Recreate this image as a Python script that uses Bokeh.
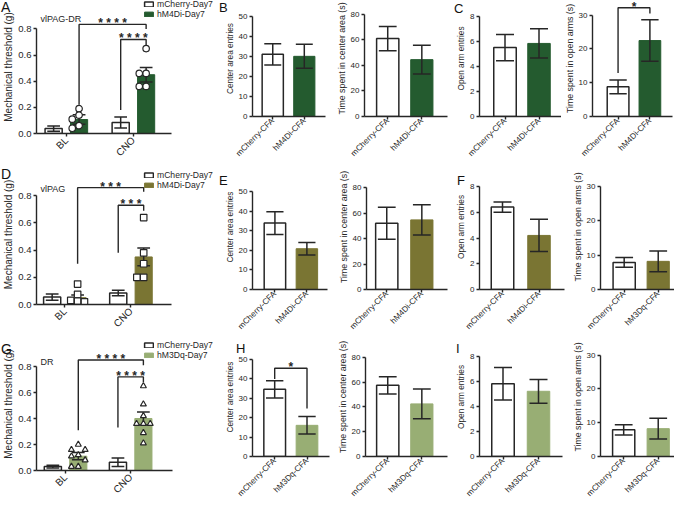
import math
from bokeh.plotting import figure
from bokeh.models import (Range1d, FixedTicker, NumeralTickFormatter, Legend, LegendItem,
                          Label, Div)
from bokeh.layouts import row, column
from bokeh.embed import file_html
from bokeh.resources import INLINE

# ---------------- data ----------------
mech_groups = ["BL", "CNO"]
cfa_hm4di = ["mCherry-CFA", "hM4Di-CFA"]
cfa_hm3dq = ["mCherry-CFA", "hM3Dq-CFA"]
mech_ticks = [0, 0.2, 0.4, 0.6, 0.8]
entries_ticks = [0, 10, 20, 30, 40, 50]
center_time_ticks = [0, 20, 40, 60, 80]
open_entries_ticks = [0, 2, 4, 6, 8]
open_time_ticks = [0, 10, 20, 30]
panel_letters = ["A", "B", "C", "D", "E", "F", "G", "H", "I"]

# Row 1: vlPAG-DR, hM4Di
A_mch_mean = [0.038, 0.084]
A_mch_sem = [0.020, 0.042]
A_hm_mean = [0.107, 0.450]
A_hm_sem = [0.037, 0.055]
A_hm_pts_BL = [0.19, 0.14, 0.11, 0.06, 0.04]
A_hm_pts_CNO = [0.65, 0.46, 0.46, 0.36, 0.36]
A_sig = [("hm", 0, "hm", 1, 0.22, 0.835, 0.80, "* * * *"),
         ("mch", 1, "hm", 1, 0.18, 0.72, 0.675, "* * * *")]
B_entries_mean = [31.0, 30.0]
B_entries_sem = [5.3, 6.0]
B_time_mean = [61.0, 44.5]
B_time_sem = [9.5, 11.2]
C_entries_mean = [5.5, 5.83]
C_entries_sem = [1.05, 1.17]
C_time_mean = [8.8, 22.5]
C_time_sem = [2.05, 6.15]
C_time_sig = [(1, 2, 12.9, 32.2, 30.5, "*")]

# Row 2: vlPAG, hM4Di
D_mch_mean = [0.055, 0.084]
D_mch_sem = [0.023, 0.020]
D_hm_mean = [0.050, 0.350]
D_hm_sem = [0.020, 0.065]
D_hm_pts_BL = [0.15, 0.075, 0.03, 0.025, 0.02]
D_hm_pts_CNO = [0.64, 0.38, 0.30, 0.20, 0.20]
D_sig = [("hm", 0, "hm", 1, 0.30, 0.86, 0.83, "* * *"),
         ("mch", 1, "hm", 1, 0.38, 0.73, 0.69, "* * *")]
E_entries_mean = [33.9, 20.8]
E_entries_sem = [5.8, 3.15]
E_time_mean = [52.0, 54.6]
E_time_sem = [12.5, 11.9]
F_entries_mean = [6.4, 4.2]
F_entries_sem = [0.4, 1.25]
F_time_mean = [7.9, 8.2]
F_time_sem = [1.45, 3.05]

# Row 3: DR, hM3Dq
G_mch_mean = [0.030, 0.064]
G_mch_sem = [0.010, 0.033]
G_hm_mean = [0.110, 0.400]
G_hm_sem = [0.028, 0.050]
G_hm_pts_BL = [0.20, 0.16, 0.16, 0.12, 0.11, 0.08, 0.03, 0.03]
G_hm_pts_CNO = [0.65, 0.51, 0.42, 0.36, 0.36, 0.36, 0.29, 0.21]
G_sig = [("hm", 0, "hm", 1, 0.31, 0.85, 0.81, "* * * *"),
         ("mch", 1, "hm", 1, 0.33, 0.72, 0.68, "* * * *")]
H_entries_mean = [34.5, 16.0]
H_entries_sem = [4.4, 4.5]
H_entries_sig = [(1, 2, 39.8, 45.3, 24.7, "*")]
H_time_mean = [57.5, 42.5]
H_time_sem = [7.0, 12.0]
I_entries_mean = [5.8, 5.2]
I_entries_sem = [1.3, 0.95]
I_time_mean = [7.9, 8.25]
I_time_sem = [1.5, 3.1]

# ---------------- style ----------------
FONT = "Liberation Sans"
INK = "#262626"
GREEN_DARK = "#245b2f"
OLIVE = "#7a7533"
GREEN_LIGHT = "#98ae74"


def make_panel(W, H, L, fb, top, c1, c2, xend, t, ymax, yticks, fmt, xlabels, ylabel,
               ylab_size, ytick_size, xlab_size, xstandoff):
    kx = c2 - c1
    x0 = 1 - (c1 - L) / kx
    x1 = 1 + (W - c1) / kx
    ky = (fb - t) / ymax
    y1 = (fb - top) / ky
    p = figure(width=W, height=H, x_range=Range1d(x0, x1), y_range=Range1d(0, y1),
               output_backend="svg", toolbar_location=None,
               min_border_left=L, min_border_right=0, min_border_top=top,
               min_border_bottom=H - fb)
    p.outline_line_color = None
    p.xgrid.grid_line_color = None
    p.ygrid.grid_line_color = None
    xa = p.xaxis[0]
    ya = p.yaxis[0]
    for ax in (xa, ya):
        ax.axis_line_color = INK
        ax.axis_line_width = 1.4
        ax.major_tick_line_color = INK
        ax.major_tick_line_width = 1.4
        ax.major_tick_in = 0
        ax.major_tick_out = 3
        ax.minor_tick_line_color = None
        ax.major_label_text_font = FONT
        ax.major_label_text_color = INK
        ax.major_label_standoff = 2
    xa.ticker = FixedTicker(ticks=[1, 2])
    xa.major_label_overrides = {1: xlabels[0], 2: xlabels[1]}
    xa.major_label_orientation = math.pi / 4
    xa.major_label_text_font_size = f"{xlab_size}px"
    xa.major_label_standoff = xstandoff
    xa.bounds = (x0, min(x1, 1 + (xend - c1) / kx))
    ya.ticker = FixedTicker(ticks=yticks)
    ya.formatter = NumeralTickFormatter(format=fmt)
    ya.major_label_text_font_size = f"{ytick_size}px"
    ya.bounds = (0, ymax)
    ya.axis_label = ylabel
    ya.axis_label_text_font = FONT
    ya.axis_label_text_font_style = "normal"
    ya.axis_label_text_font_size = f"{ylab_size}px"
    ya.axis_label_text_color = INK
    ya.axis_label_standoff = 1
    g = dict(L=L, fb=fb, kx=kx, ky=ky, x0=x0)
    return p, g


def errbars(p, g, xs, means, sems, cap_px):
    hw = cap_px / 2 / g["kx"]
    lo = [m - s for m, s in zip(means, sems)]
    hi = [m + s for m, s in zip(means, sems)]
    p.segment(x0=xs, y0=lo, x1=xs, y1=hi, line_color=INK, line_width=1.5)
    p.segment(x0=[x - hw for x in xs] * 2, y0=lo + hi, x1=[x + hw for x in xs] * 2,
              y1=lo + hi, line_color=INK, line_width=1.5)


def swarm(vals, tol, step):
    placed, offs = [], []
    for v in vals:
        for k in [0, -1, 1, -2, 2, -3, 3]:
            if all(not (abs(v - pv) < tol and pk == k) for pv, pk in placed):
                break
        placed.append((v, k))
        offs.append(k * step)
    return offs


def bracket(p, xa_, xb_, ya0, ytop, yb0, text, size):
    p.line(x=[xa_, xa_, xb_, xb_], y=[ya0, ytop, ytop, yb0], line_color=INK, line_width=1.4)
    p.add_layout(Label(x=(xa_ + xb_) / 2, y=ytop, text=text, text_align="center",
                       text_baseline="alphabetic", y_offset=1, text_font=FONT,
                       text_font_size=size, text_font_style="bold", text_color=INK))


def mech_panel(W, H, L, fb, c1, c2, xend, t, mch_mean, mch_sem, hm_mean, hm_sem,
               pts_bl, pts_cno, color, marker, msize, sig, title, title_base,
               leg_labels, leg_top):
    p, g = make_panel(W, H, L, fb, 0, c1, c2, xend, t, 0.8, mech_ticks, "0.0",
                      mech_groups, "Mechanical threshold (g)", 10, 9.5, 10, 2)
    off = 13 / g["kx"]
    bw = 17.5 / g["kx"]
    xm = [1 - off, 2 - off]
    xh = [1 + off, 2 + off]
    r1 = p.vbar(x=xm, top=mch_mean, width=bw, fill_color="white", line_color=INK, line_width=1.5)
    r2 = p.vbar(x=xh, top=hm_mean, width=bw, fill_color=color, line_color=color, line_width=1)
    errbars(p, g, xm, mch_mean, mch_sem, 13)
    errbars(p, g, xh, hm_mean, hm_sem, 13)
    step = 7 / g["kx"]
    tol = msize / g["ky"]
    for gi, pts in enumerate([pts_bl, pts_cno]):
        offs = swarm(pts, tol, step)
        p.scatter(x=[xh[gi] + o for o in offs], y=pts, marker=marker, size=msize,
                  fill_color="white", line_color=INK, line_width=1.2)
    pos = {"mch": xm, "hm": xh}
    for s0, g0, s1, g1, y0, yt, y1, txt in sig:
        bracket(p, pos[s0][g0], pos[s1][g1], y0, yt, y1, txt, "12px")
    p.add_layout(Label(x=g["x0"] + 4 / g["kx"], y=(fb - title_base) / g["ky"],
                       text=title, text_font=FONT, text_font_size="9px",
                       text_baseline="alphabetic", text_color=INK))
    leg = Legend(items=[LegendItem(label=leg_labels[0], renderers=[r1]),
                        LegendItem(label=leg_labels[1], renderers=[r2])],
                 location=(139 - L, fb - leg_top - 20),
                 label_text_font=FONT, label_text_font_size="8.6px", label_text_color=INK,
                 label_height=10, glyph_height=6, glyph_width=11, label_standoff=3,
                 spacing=0, padding=0, margin=0, border_line_alpha=0,
                 background_fill_alpha=0)
    p.add_layout(leg)
    return p


def cfa_panel(W, H, L, fb, c1, c2, xend, t, ymax, yticks, xlabels, ylabel, ylab_size,
              means, sems, color, sig=None):
    p, g = make_panel(W, H, L, fb, 0, c1, c2, xend, t, ymax, yticks, "0", xlabels,
                      ylabel, ylab_size, 8, 8.2, 0)
    bw = 22.5 / g["kx"]
    p.vbar(x=[1], top=[means[0]], width=bw, fill_color="white", line_color=INK, line_width=1.5)
    p.vbar(x=[2], top=[means[1]], width=bw, fill_color=color, line_color=color, line_width=1)
    errbars(p, g, [1, 2], means, sems, 18)
    if sig:
        for xa_, xb_, y0, yt, y1, txt in sig:
            bracket(p, xa_, xb_, y0, yt, y1, txt, "12px")
    return p


# ---------------- left column (mechanical threshold) ----------------
pA = mech_panel(221, 164, 32, 134, 62.5, 131, 170, 28.7, A_mch_mean, A_mch_sem,
                A_hm_mean, A_hm_sem, A_hm_pts_BL, A_hm_pts_CNO, GREEN_DARK, "circle", 6.5,
                A_sig, "vlPAG-DR", 19, ["mCherry-Day7", "hM4Di-Day7"], 0)
pD = mech_panel(221, 173, 32, 140, 61, 128.5, 170, 31.3, D_mch_mean, D_mch_sem,
                D_hm_mean, D_hm_sem, D_hm_pts_BL, D_hm_pts_CNO, OLIVE, "square", 6.5,
                D_sig, "vlPAG", 24.7, ["mCherry-Day7", "hM4Di-Day7"], 6)
pG = mech_panel(221, 167, 32, 133, 61.7, 128.2, 171, 29, G_mch_mean, G_mch_sem,
                G_hm_mean, G_hm_sem, G_hm_pts_BL, G_hm_pts_CNO, GREEN_LIGHT, "triangle", 6,
                G_sig, "DR", 24.7, ["mCherry-Day7", "hM3Dq-Day7"], 3)

# ---------------- row 1 (B, C) ----------------
H1, FB1 = 164, 118
pB1 = cfa_panel(112, H1, 26, FB1, 47.5, 81, 104, 16, 50, entries_ticks, cfa_hm4di,
                "Center area entries", 8.3, B_entries_mean, B_entries_sem, GREEN_DARK)
pB2 = cfa_panel(116, H1, 30, FB1, 53.5, 88, 114, 14, 80, center_time_ticks, cfa_hm4di,
                "Time spent in center area (s)", 8.8, B_time_mean, B_time_sem, GREEN_DARK)
pC1 = cfa_panel(112, H1, 30, FB1, 55.5, 89.5, 112, 16, 8, open_entries_ticks, cfa_hm4di,
                "Open arm entries", 8.3, C_entries_mean, C_entries_sem, GREEN_DARK)
pC2 = cfa_panel(113, H1, 28, FB1, 54.5, 87.5, 111, 15, 30, open_time_ticks, cfa_hm4di,
                "Time spent in open arms (s)", 8.8, C_time_mean, C_time_sem, GREEN_DARK,
                sig=C_time_sig)

# ---------------- row 2 (E, F) ----------------
H2, FB2 = 173, 125
pE1 = cfa_panel(114, H2, 27, FB2, 50.5, 84, 106, 27, 50, entries_ticks, cfa_hm4di,
                "Center area entries", 8.3, E_entries_mean, E_entries_sem, OLIVE)
pE2 = cfa_panel(114, H2, 30, FB2, 50.5, 86, 112, 23, 80, center_time_ticks, cfa_hm4di,
                "Time spent in center area (s)", 8.8, E_time_mean, E_time_sem, OLIVE)
pF1 = cfa_panel(120, H2, 30, FB2, 53, 89.5, 115, 22, 8, open_entries_ticks, cfa_hm4di,
                "Open arm entries", 8.3, F_entries_mean, F_entries_sem, OLIVE)
pF2 = cfa_panel(105, H2, 30, FB2, 54, 88.5, 105, 22, 30, open_time_ticks, cfa_hm3dq,
                "Time spent in open arms (s)", 8.8, F_time_mean, F_time_sem, OLIVE)

# ---------------- row 3 (H, I) ----------------
H3, FB3 = 167, 121
pH1 = cfa_panel(113, H3, 28, FB3, 51, 84.5, 108, 22, 50, entries_ticks, cfa_hm3dq,
                "Center area entries", 8.3, H_entries_mean, H_entries_sem, GREEN_LIGHT,
                sig=H_entries_sig)
pH2 = cfa_panel(115, H3, 30, FB3, 52.5, 87, 113, 20.3, 80, center_time_ticks, cfa_hm3dq,
                "Time spent in center area (s)", 8.8, H_time_mean, H_time_sem, GREEN_LIGHT)
pI1 = cfa_panel(120, H3, 30, FB3, 53.5, 89, 113, 19, 8, open_entries_ticks, cfa_hm3dq,
                "Open arm entries", 8.3, I_entries_mean, I_entries_sem, GREEN_LIGHT)
pI2 = cfa_panel(105, H3, 30, FB3, 53.5, 88.5, 105, 18, 30, open_time_ticks, cfa_hm3dq,
                "Time spent in open arms (s)", 8.8, I_time_mean, I_time_sem, GREEN_LIGHT)

grid = row(column(pA, pD, pG),
           column(row(pB1, pB2, pC1, pC2),
                  row(pE1, pE2, pF1, pF2),
                  row(pH1, pH2, pI1, pI2)))

# panel letters: a zero-size overlay placed after the grid (positions relative to its origin)
TOTAL_H = 164 + 173 + 167
letter_pos = [(1, -12, 14), (219, -11, 13), (454, -10, 13),
              (1, 155, 14), (219, 162, 13), (457, 162, 13),
              (1, 330, 14), (236, 330, 13), (456, 330, 13)]
spans = "".join(
    f'<span style="position:absolute;left:{x}px;top:{y - TOTAL_H}px;'
    f"font-family:'Liberation Sans',Arial,sans-serif;font-size:{s}px;line-height:1;"
    f'color:#111111;white-space:nowrap">{t}</span>'
    for t, (x, y, s) in zip(panel_letters, letter_pos))
overlay = Div(text=f'<div style="position:relative;width:0;height:0;overflow:visible;'
                   f'z-index:10">{spans}</div>',
              width=0, height=0, margin=0, styles={"overflow": "visible"})

layout = column(grid, overlay)

open("out.html", "w").write(file_html(layout, INLINE))
